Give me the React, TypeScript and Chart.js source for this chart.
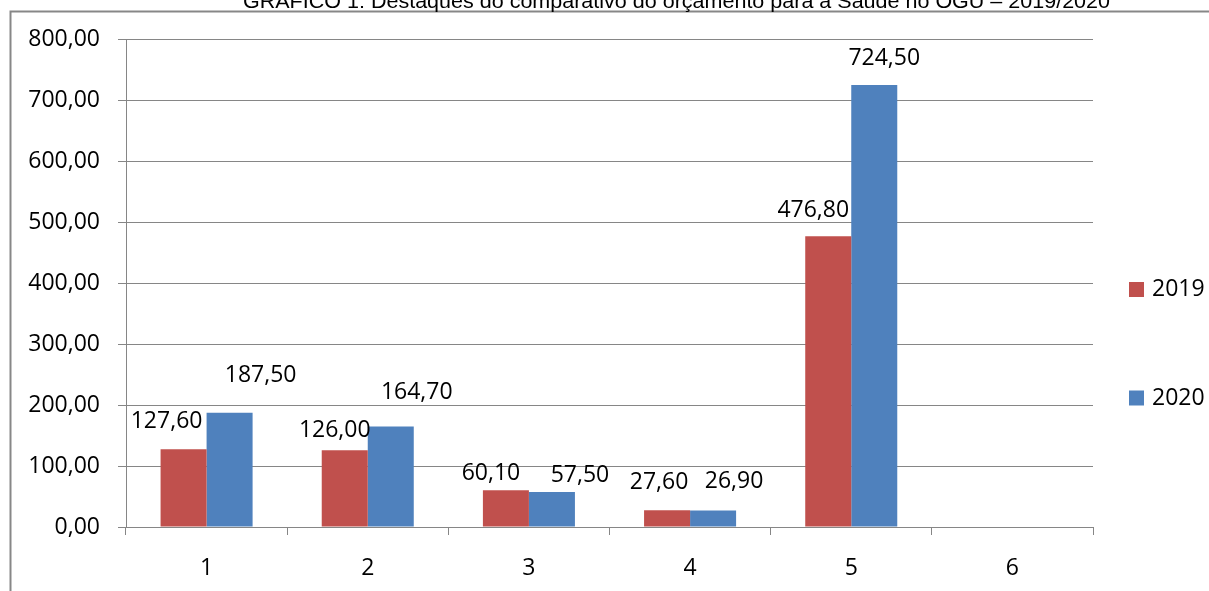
import React, { useEffect, useRef } from "react";
import { Chart, registerables } from "chart.js";

Chart.register(...registerables);

// ---- data ----
const categories = ["1", "2", "3", "4", "5", "6"];
const seriesNames = ["2019", "2020"];
const values2019 = [127.6, 126.0, 60.1, 27.6, 476.8, null];
const values2020 = [187.5, 164.7, 57.5, 26.9, 724.5, null];
const yMin = 0;
const yMax = 800;
const yStep = 100;
const titleText =
  "GRÁFICO 1: Destaques do comparativo do orçamento para a Saúde no OGU – 2019/2020";

// ---- styles / layout ----
const colors = ["#C0504D", "#4F81BD"];
const gridColor = "#868686";
const fontFamily = "'Open Sans', 'DejaVu Sans', sans-serif";
const fontSize = 23;
// data label nudges (px), mimicking the manually placed labels of the original
const labelDx = [
  [-17, -10, -15, -8, -15, 0],
  [31, 26, 28, 21, 10, 0],
];
const labelDy = [
  [-28, -20, -17, -28, -26, 0],
  [-37, -34, -16, -29, -27, 0],
];
const legendY = [289.5, 398];

const fmt = (v: number) => v.toFixed(2).replace(".", ",");

export default function App() {
  const ref = useRef<HTMLCanvasElement | null>(null);

  useEffect(() => {
    if (!ref.current) return;

    const framePlugin = {
      id: "frameAndTitle",
      beforeDraw(chart: any) {
        const ctx = chart.ctx;
        ctx.save();
        ctx.fillStyle = "#ffffff";
        ctx.fillRect(0, 0, chart.width, chart.height);
        ctx.strokeStyle = "#878787";
        ctx.lineWidth = 2;
        ctx.beginPath();
        ctx.moveTo(10.5, chart.height + 5);
        ctx.lineTo(10.5, 11.5);
        ctx.lineTo(chart.width + 5, 11.5);
        ctx.stroke();
        // title (cut at the top, as in the original)
        ctx.font = "21px 'Liberation Sans', Arial, sans-serif";
        ctx.fillStyle = "#000";
        ctx.textAlign = "left";
        ctx.textBaseline = "alphabetic";
        const w = ctx.measureText(titleText).width;
        const targetW = 867;
        ctx.translate(243, 8);
        ctx.scale(targetW / w, 1);
        ctx.fillText(titleText, 0, 0);
        ctx.restore();
      },
    };

    const labelsPlugin = {
      id: "valueLabels",
      afterDatasetsDraw(chart: any) {
        const ctx = chart.ctx;
        ctx.save();
        ctx.font = `${fontSize}px ${fontFamily}`;
        ctx.fillStyle = "#000";
        ctx.textAlign = "center";
        ctx.textBaseline = "middle";
        chart.data.datasets.forEach((ds: any, di: number) => {
          const meta = chart.getDatasetMeta(di);
          meta.data.forEach((el: any, i: number) => {
            const v = ds.data[i];
            if (v === null || v === undefined) return;
            ctx.fillText(fmt(v), el.x + labelDx[di][i], el.y + labelDy[di][i]);
          });
        });
        ctx.restore();
      },
      afterDraw(chart: any) {
        const ctx = chart.ctx;
        ctx.save();
        ctx.font = `${fontSize}px ${fontFamily}`;
        ctx.textAlign = "left";
        ctx.textBaseline = "middle";
        chart.data.datasets.forEach((ds: any, di: number) => {
          ctx.fillStyle = ds.backgroundColor;
          ctx.fillRect(1129, legendY[di] - 7.5, 15, 15);
          ctx.fillStyle = "#000";
          ctx.fillText(ds.label, 1152, legendY[di]);
        });
        ctx.restore();
      },
    };

    const chart = new Chart(ref.current, {
      type: "bar",
      data: {
        labels: categories,
        datasets: [
          {
            label: seriesNames[0],
            data: values2019,
            backgroundColor: colors[0],
            categoryPercentage: 0.571,
            barPercentage: 1,
          },
          {
            label: seriesNames[1],
            data: values2020,
            backgroundColor: colors[1],
            categoryPercentage: 0.571,
            barPercentage: 1,
          },
        ],
      },
      options: {
        responsive: false,
        animation: false,
        devicePixelRatio: 1,
        layout: { padding: { top: 39, right: 116, bottom: 0, left: 0 } },
        plugins: {
          legend: { display: false },
          title: { display: false },
          tooltip: { enabled: false },
        },
        scales: {
          x: {
            grid: {
              display: true,
              drawOnChartArea: false,
              drawTicks: true,
              tickLength: 8,
              color: gridColor,
              offset: true,
            },
            border: { color: gridColor, width: 1 },
            ticks: {
              color: "#000",
              font: { family: fontFamily, size: fontSize },
              padding: 20,
              maxRotation: 0,
            },
            afterFit: (s: any) => {
              s.height = 64;
            },
          },
          y: {
            min: yMin,
            max: yMax,
            grid: { color: gridColor, tickLength: 8, lineWidth: 1 },
            border: { color: gridColor, width: 1 },
            ticks: {
              stepSize: yStep,
              color: "#000",
              font: { family: fontFamily, size: fontSize },
              padding: 18,
              callback: (v: any) => fmt(Number(v)),
            },
            afterFit: (s: any) => {
              s.width = 126;
            },
          },
        },
      },
      plugins: [framePlugin, labelsPlugin],
    } as any);

    return () => chart.destroy();
  }, []);

  return (
    <div
      style={{
        position: "fixed",
        left: 0,
        top: 0,
        width: 1209,
        height: 591,
        background: "#fff",
      }}
    >
      <canvas ref={ref} width={1209} height={591} />
    </div>
  );
}
